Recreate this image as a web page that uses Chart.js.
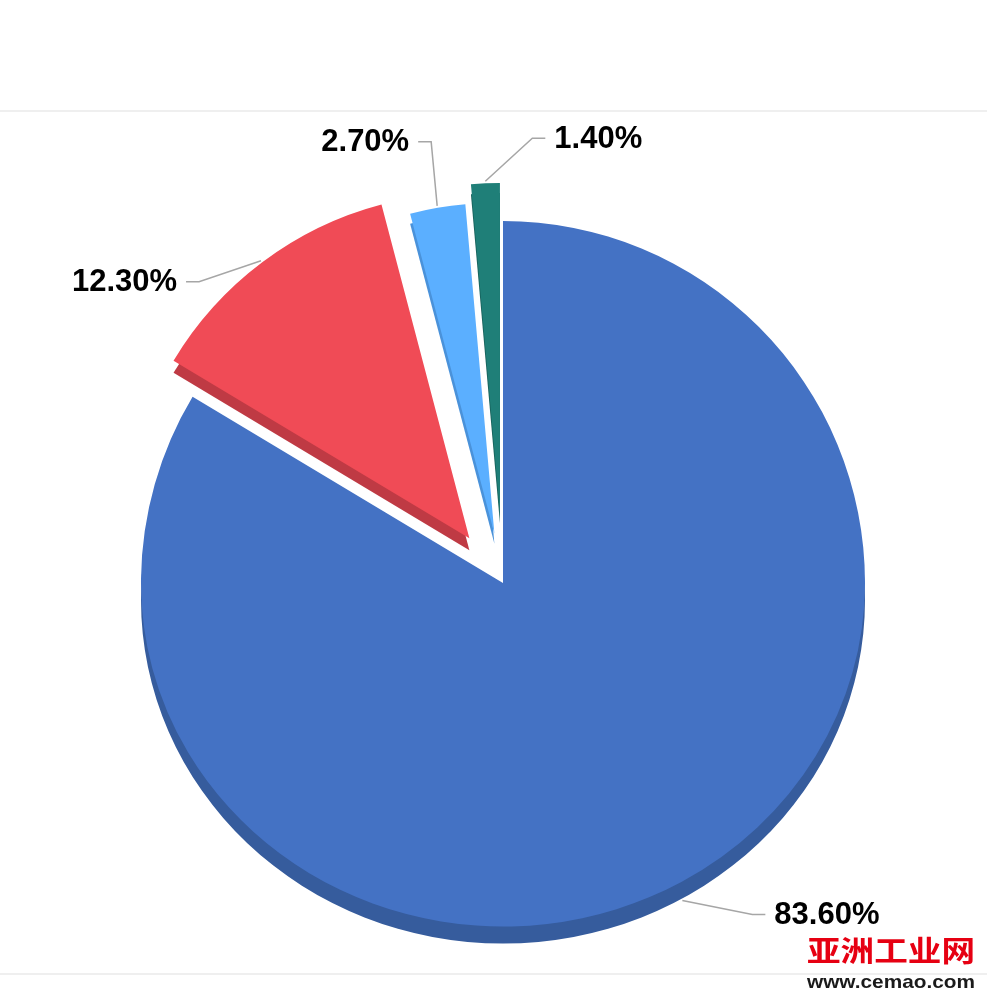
<!DOCTYPE html>
<html>
<head>
<meta charset="utf-8">
<script src="https://cdn.jsdelivr.net/npm/chart.js@4/dist/chart.umd.min.js"></script>
<style>
	body { margin: 0; background: #fff; }
	#wrap { position: relative; width: 987px; height: 998px; }
</style>
</head>
<body>
<div id="wrap"><canvas id="pie"></canvas></div>
<script>
var labels = ['A', 'B', 'C', 'D'];
var values = [83.6, 12.3, 2.7, 1.4];
var valueLabels = ['83.60%', '12.30%', '2.70%', '1.40%'];

var colors = ['#4472C4', '#F04B56', '#5BAFFF', '#1F7F78'];
var sideColors = ['#365C9D', '#BF3A44', '#4A92DA', '#17625C'];
// pulled-out slices sit further back, so they look a bit smaller
var explode = [0, 56, 50, 70];
var radiusScale = [1, 0.953, 0.914, 0.912];
var sideDepth = [17, 12, 10, 10];
var elbowDx = [70, -62, -6, 47];
var elbowDy = [14, 21, -64, -43];

// back half nearly flat, front half tilted
var backScale = 1;
var frontScale = 0.949;

function pieCenterY(chart) {
	return (chart.chartArea.top + chart.chartArea.bottom) / 2;
}

function mapY(y, cy) {
	return y < cy ? cy + (y - cy) * backScale : cy + (y - cy) * frontScale;
}

function inHalf(chart, back, dy, fn) {
	var ctx = chart.ctx;
	var cy = pieCenterY(chart);
	var k = back ? backScale : frontScale;
	ctx.save();
	ctx.translate(0, dy);
	ctx.beginPath();
	if (back) {
		ctx.rect(0, -2000, chart.width, cy + 2001);
	} else {
		ctx.rect(0, cy, chart.width, 2000);
	}
	ctx.clip();
	ctx.translate(0, cy);
	ctx.scale(1, k);
	ctx.translate(0, -cy);
	fn(ctx);
	ctx.restore();
}

var pie3d = {
	id: 'pie3d',
	beforeDraw: function(chart) {
		var ctx = chart.ctx;
		ctx.save();
		ctx.fillStyle = '#EFEFEF';
		ctx.fillRect(0, 110, chart.width, 2);
		ctx.fillRect(0, 973, chart.width, 2);
		ctx.restore();
	},
	afterDatasetsUpdate: function(chart) {
		var arcs = chart.getDatasetMeta(0).data;
		arcs.forEach(function(arc, i) {
			var mid = (arc.startAngle + arc.endAngle) / 2;
			arc.x += Math.cos(mid) * explode[i];
			arc.y += Math.sin(mid) * explode[i];
			arc.outerRadius *= radiusScale[i];
		});
	},
	beforeDatasetsDraw: function(chart) {
		var arcs = chart.getDatasetMeta(0).data;
		// side of the 3d pie: same slices pushed down
		arcs.forEach(function(arc, i) {
			[true, false].forEach(function(back) {
				inHalf(chart, back, sideDepth[i], function(ctx) {
					ctx.beginPath();
					ctx.moveTo(arc.x, arc.y);
					ctx.arc(arc.x, arc.y, arc.outerRadius, arc.startAngle, arc.endAngle);
					ctx.closePath();
					ctx.fillStyle = sideColors[i];
					ctx.fill();
				});
			});
		});
		// faces: back half here, front half after the datasets draw
		var ctx = chart.ctx;
		var cy = pieCenterY(chart);
		ctx.save();
		ctx.beginPath();
		ctx.rect(0, -2000, chart.width, cy + 2001);
		ctx.clip();
		ctx.translate(0, cy);
		ctx.scale(1, backScale);
		ctx.translate(0, -cy);
	},
	afterDatasetsDraw: function(chart) {
		chart.ctx.restore();
		var meta = chart.getDatasetMeta(0);
		inHalf(chart, false, 0, function() {
			meta.controller.draw();
		});
	},
	afterDraw: function(chart) {
		var ctx = chart.ctx;
		var cy = pieCenterY(chart);
		var arcs = chart.getDatasetMeta(0).data;
		ctx.save();
		ctx.strokeStyle = '#A6A6A6';
		ctx.lineWidth = 1.5;
		ctx.fillStyle = '#000';
		ctx.font = 'bold 31px "Liberation Sans", Arial, sans-serif';
		ctx.textBaseline = 'middle';
		arcs.forEach(function(arc, i) {
			var mid = (arc.startAngle + arc.endAngle) / 2;
			var r = arc.outerRadius + 2;
			var sx = arc.x + Math.cos(mid) * r;
			var sy = mapY(arc.y + Math.sin(mid) * r, cy);
			if (Math.sin(mid) > 0) {
				sy += sideDepth[i];
			}
			var ex = sx + elbowDx[i];
			var ey = sy + elbowDy[i];
			var dir = elbowDx[i] >= 0 ? 1 : -1;
			ctx.beginPath();
			ctx.moveTo(sx, sy);
			ctx.lineTo(ex, ey);
			ctx.lineTo(ex + dir * 13, ey);
			ctx.stroke();
			ctx.textAlign = dir > 0 ? 'left' : 'right';
			ctx.fillText(valueLabels[i], ex + dir * 22, ey + 1);
		});
		ctx.restore();

		// watermark
		ctx.save();
		ctx.fillStyle = '#E60012';
		ctx.font = 'bold 29px "Noto Sans CJK SC", sans-serif';
		ctx.textBaseline = 'middle';
		var w = ctx.measureText('亚洲工业网').width;
		ctx.translate(807, 951);
		ctx.scale(168 / w, 1);
		ctx.fillText('亚洲工业网', 0, 0);
		ctx.restore();
		ctx.save();
		ctx.fillStyle = '#1a1a1a';
		ctx.font = 'bold 19px "Liberation Sans", Arial, sans-serif';
		ctx.textBaseline = 'middle';
		w = ctx.measureText('www.cemao.com').width;
		ctx.translate(807, 983);
		ctx.scale(168 / w, 1);
		ctx.fillText('www.cemao.com', 0, 0);
		ctx.restore();
	}
};

new Chart(document.getElementById('pie'), {
	type: 'pie',
	data: {
		labels: labels,
		datasets: [ {
			data: values,
			backgroundColor: colors,
			borderWidth: 0,
			radius: 362,
			clip: false
		} ]
	},
	options: {
		responsive: true,
		maintainAspectRatio: false,
		animation: false,
		events: [],
		layout: {
			padding: { left: 19, top: 168, right: 0, bottom: 0 }
		},
		plugins: {
			legend: { display: false },
			tooltip: { enabled: false }
		}
	},
	plugins: [ pie3d ]
});
</script>
</body>
</html>
